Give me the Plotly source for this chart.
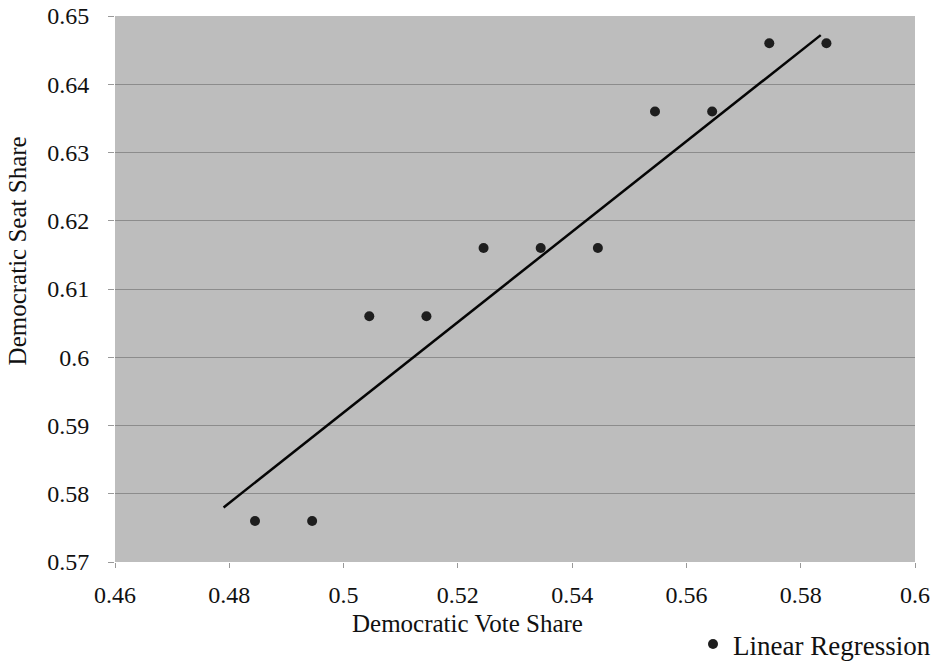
import plotly.graph_objects as go

vote_share = [0.4845, 0.4945, 0.5045, 0.5145, 0.5245, 0.5345, 0.5445, 0.5545, 0.5645, 0.5745, 0.5845]
seat_share = [0.576, 0.576, 0.606, 0.606, 0.616, 0.616, 0.616, 0.636, 0.636, 0.646, 0.646]
line_x = [0.479, 0.5835]
line_y = [0.578, 0.6472]
x_ticks = [0.46, 0.48, 0.5, 0.52, 0.54, 0.56, 0.58, 0.6]
y_ticks = [0.57, 0.58, 0.59, 0.6, 0.61, 0.62, 0.63, 0.64, 0.65]

FONT = "Liberation Serif"
TICK = dict(family=FONT, size=24, color="#111")
TITLE = dict(family=FONT, size=25, color="#111")
LEG = dict(family=FONT, size=27, color="#111")

fig = go.Figure()
fig.add_trace(go.Scatter(x=vote_share, y=seat_share, mode="markers",
                         name="Linear Regression",
                         marker=dict(size=10, color="#1e1e1e")))
fig.add_trace(go.Scatter(x=line_x, y=line_y, mode="lines", showlegend=False,
                         line=dict(color="#050505", width=2.5)))

fig.update_layout(
    template="none",
    width=936, height=669,
    margin=dict(l=115, r=21, t=16, b=107, autoexpand=False),
    paper_bgcolor="white", plot_bgcolor="#bdbdbd",
    font=TICK,
    showlegend=True,
    legend=dict(xref="container", yref="container",
                x=1.0, y=0.0, xanchor="right", yanchor="bottom",
                font=LEG, bgcolor="rgba(0,0,0,0)", itemwidth=30, tracegroupgap=0),
    annotations=[
        dict(text="Democratic Vote Share", xref="paper", yref="paper",
             x=(467 - 115) / 800, y=-0.112, xanchor="center", yanchor="middle",
             showarrow=False, font=TITLE),
        dict(text="Democratic Seat Share", xref="paper", yref="paper",
             x=-0.122, y=(562 - 251) / 546, xanchor="center", yanchor="middle",
             textangle=-90, showarrow=False, font=TITLE),
    ],
    xaxis=dict(range=[0.46, 0.6], tickmode="array", tickvals=x_ticks,
               ticktext=[f"{v:g}" for v in x_ticks], tickfont=TICK,
               ticklabelstandoff=6,
               automargin=False, showgrid=False, zeroline=False,
               ticks="outside", ticklen=5, tickcolor="#999", showline=False),
    yaxis=dict(range=[0.57, 0.65], tickmode="array", tickvals=y_ticks,
               ticktext=[f"{v:g}" for v in y_ticks], tickfont=TICK,
               ticklabelstandoff=14,
               automargin=False, showgrid=True, gridcolor="#8c8c8c", gridwidth=1,
               zeroline=False, ticks="outside", ticklen=6, tickcolor="#999",
               showline=False),
)

fig.write_html("out.html", config={"displayModeBar": False},
               post_script="document.body.style.margin='0';document.body.style.padding='0';")
